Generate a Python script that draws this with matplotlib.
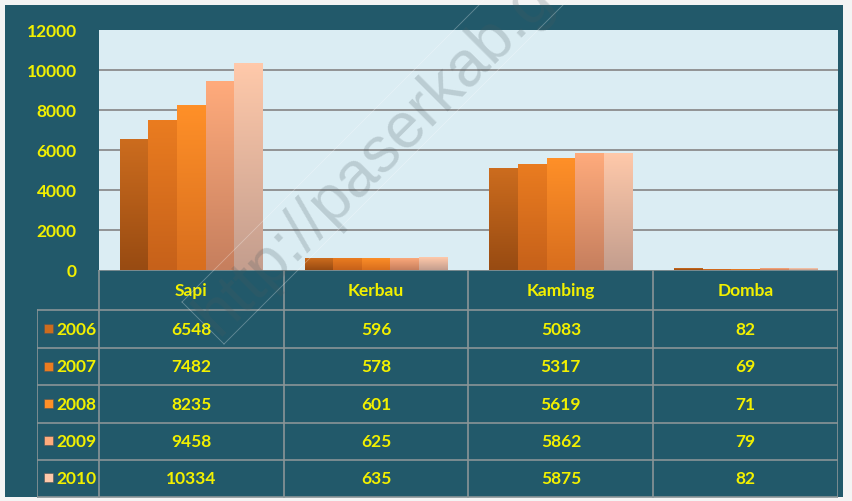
import numpy as np
import matplotlib
matplotlib.use("Agg")
import matplotlib.pyplot as plt
from matplotlib.patches import Rectangle
from matplotlib.lines import Line2D

# data
categories = ["Sapi", "Kerbau", "Kambing", "Domba"]
years = ["2006", "2007", "2008", "2009", "2010"]
values = {
    "2006": [6548, 596, 5083, 82],
    "2007": [7482, 578, 5317, 69],
    "2008": [8235, 601, 5619, 71],
    "2009": [9458, 625, 5862, 79],
    "2010": [10334, 635, 5875, 82],
}
yticks = [0, 2000, 4000, 6000, 8000, 10000, 12000]

# (top colour, bottom colour) of each series
colors = {
    "2006": ("#cc6c1e", "#984b12"),
    "2007": ("#ea7c20", "#c6611a"),
    "2008": ("#ff9028", "#d86e1e"),
    "2009": ("#ffab7c", "#c67f5e"),
    "2010": ("#ffc9aa", "#c49e8e"),
}

BG = "#22596a"
PLOT_BG = "#dbedf3"
YELLOW = "#f2f000"
LINE = "#8a9597"
W, H = 853, 502
FS = 12.5
FW = "bold"

plt.rcParams["font.family"] = ["Lato", "DejaVu Sans"]

fig = plt.figure(figsize=(W / 100, H / 100), dpi=100, facecolor="#f4f4f4")
fig.patches.append(Rectangle((5 / W, 4 / H), 838 / W, 492 / H, transform=fig.transFigure,
                             facecolor=BG, edgecolor="none", zorder=-5))


def px_rect(x0, y0, x1, y1):
    # pixel box (top-left origin) -> figure fraction rect
    return [x0 / W, 1 - y1 / H, (x1 - x0) / W, (y1 - y0) / H]


ax = fig.add_axes(px_rect(99, 31, 838, 271))
ax.set_facecolor(PLOT_BG)
for s in ax.spines.values():
    s.set_visible(False)
ax.set_yticks(yticks)
ax.set_yticklabels([str(t) for t in yticks], color=YELLOW, fontsize=FS, fontweight=FW)
ax.tick_params(axis="y", length=0, pad=16)
ax.set_xticks([])
for t in yticks[1:-1]:
    ax.axhline(t, color="#8c8c8c", lw=1.3, zorder=1)

bw = 0.155
x = np.arange(len(categories))
for i, yr in enumerate(years):
    pos = x + (i - 2) * bw
    bars = ax.bar(pos, values[yr], width=bw, color="none", edgecolor="none", zorder=3)
    top, bot = (np.array(matplotlib.colors.to_rgb(c)) for c in colors[yr])
    grad = np.linspace(0, 1, 64)[:, None, None]
    img = bot * (1 - grad) + top * grad
    for b in bars:
        x0, w, h = b.get_x(), b.get_width(), b.get_height()
        im = ax.imshow(img, extent=(x0, x0 + w, 0, h), origin="lower",
                       aspect="auto", zorder=3, interpolation="bilinear")
        im.set_clip_path(b)
ax.set_xlim(-0.5, len(categories) - 0.5)
ax.set_ylim(0, 12000)

# data table below the plot
tab = fig.add_axes(px_rect(37, 271, 838, 499))
tab.set_xlim(37, 838)
tab.set_ylim(499, 271)
tab.axis("off")
col_edges = np.linspace(99, 838, len(categories) + 1)
row_edges = [271, 311, 349, 386, 424, 461, 498]
lw = 1.2
tab.plot([99, 99], [271, 498], color=LINE, lw=lw)
for xe in col_edges[1:]:
    tab.plot([xe, xe], [271, 498], color=LINE, lw=lw)
tab.plot([37, 37], [311, 498], color=LINE, lw=lw)
tab.plot([99, 838], [271, 271], color=LINE, lw=lw)
for ye in row_edges[1:]:
    tab.plot([37, 838], [ye, ye], color=LINE, lw=lw)

for j, cat in enumerate(categories):
    cx = (col_edges[j] + col_edges[j + 1]) / 2
    tab.text(cx, (row_edges[0] + row_edges[1]) / 2, cat, color=YELLOW, fontsize=FS,
             fontweight=FW, ha="center", va="center")
for i, yr in enumerate(years):
    cy = (row_edges[i + 1] + row_edges[i + 2]) / 2
    tab.add_patch(Rectangle((44, cy - 5), 9, 9, facecolor=colors[yr][0],
                            edgecolor="#555555", lw=0.4))
    tab.text(56, cy, yr, color=YELLOW, fontsize=FS, fontweight=FW, ha="left", va="center")
    for j, v in enumerate(values[yr]):
        cx = (col_edges[j] + col_edges[j + 1]) / 2
        tab.text(cx, cy, str(v), color=YELLOW, fontsize=FS, fontweight=FW,
                 ha="center", va="center")

# watermark with its faint diamond frame
wm = dict(color="white", alpha=0.3, lw=0.6, transform=fig.transFigure, zorder=11)
for (ax0, ay0), (bx, by) in [((182, 303), (224, 345)),
                             ((182, 303), (582, -97)),
                             ((224, 345), (624, -55))]:
    fig.add_artist(Line2D([ax0 / W, bx / W], [1 - ay0 / H, 1 - by / H], **wm))
fig.text(206 / W, 1 - 325 / H, "http://paserkab.go.id", rotation=45, fontsize=46,
         color="#4a5a60", alpha=0.22, ha="left", va="center", rotation_mode="anchor",
         family="Liberation Sans", zorder=10)

fig.savefig("out.png", dpi=100, facecolor=fig.get_facecolor())
